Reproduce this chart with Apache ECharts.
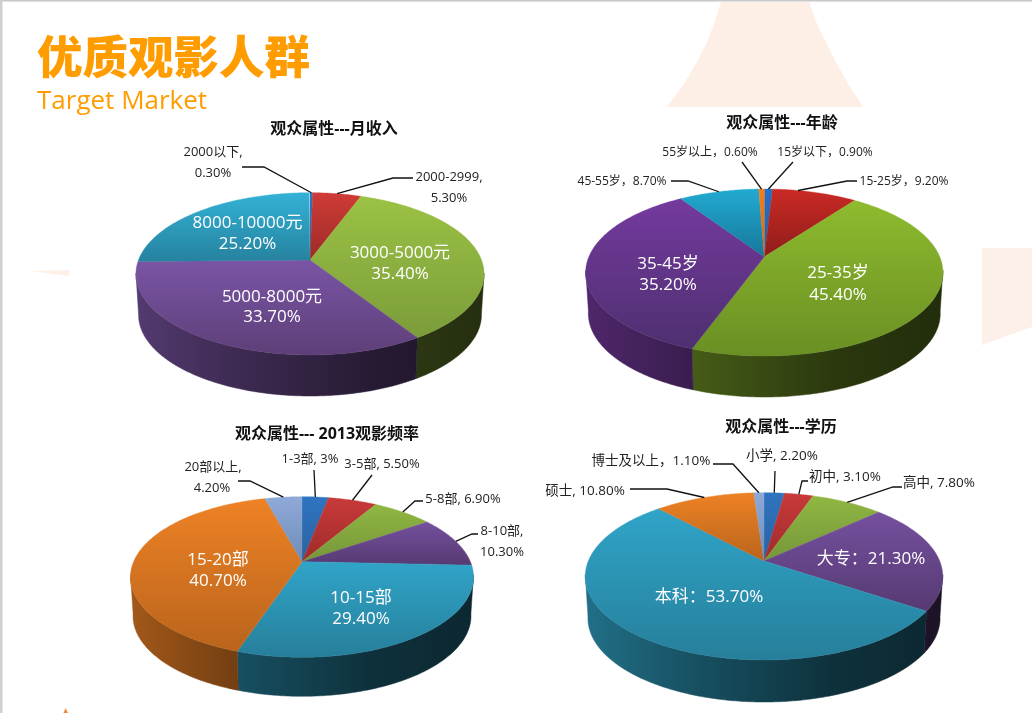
<!DOCTYPE html>
<html><head><meta charset="utf-8">
<style>html,body{margin:0;padding:0;background:#fff}#c{width:1032px;height:713px}</style>
<script src="https://cdn.jsdelivr.net/npm/echarts@6/dist/echarts.min.js"></script>
</head><body><div id="c"></div>
<script>
// ---------- data ----------
const incomeNames = ['2000以下','2000-2999','3000-5000元','5000-8000元','8000-10000元'];
const incomeValues = [0.3,5.3,35.4,33.7,25.2];
const ageNames = ['15岁以下','15-25岁','25-35岁','35-45岁','45-55岁','55岁以上'];
const ageValues = [0.9,9.2,45.4,35.2,8.7,0.6];
const freqNames = ['1-3部','3-5部','5-8部','8-10部','10-15部','15-20部','20部以上'];
const freqValues = [3,5.5,6.9,10.3,29.4,40.7,4.2];
const eduNames = ['小学','初中','高中','大专','本科','硕士','博士及以上'];
const eduValues = [2.2,3.1,7.8,21.3,53.7,10.8,1.1];

// ---------- styles ----------
const FONT = "'Open Sans','Noto Sans CJK SC',sans-serif";
const CJK = "'Noto Sans CJK SC',sans-serif";
const palSoft = {blue:['#2f74c0','#2a62a0'],red:['#c9393a','#9e2c2a'],green:['#90b742','#76963a'],purple:['#75509f','#563a72'],teal:['#30a4c8','#267f9b'],orange:['#ee8225','#b9641c'],light:['#8faad8','#6f8cb8']};
const palDeep = {blue:['#2670c8','#205ea5'],red:['#cb2a25','#8e1d1a'],green:['#8ebb2e','#6a8f23'],purple:['#743a9e','#4e2f70'],teal:['#22aad2','#17779a'],orange:['#f08020','#c96a18']};
const palIncome = {blue:['#2f74c0','#2a62a0'],red:['#d03b36','#9c2b28'],green:['#9bc244','#7b9c3a'],purple:['#7a55a5','#5e3f78'],teal:['#33b2d6','#26829f']};

// ---------- pie layouts (pixels) ----------
const pies = [
 {names:incomeNames,values:incomeValues,pal:palIncome,colors:['blue','red','green','purple','teal'],cx:310,ay:260,above:67.3,below:95,c:171.5,depth:41,outerSize:13,
  inner:[[247.5,223,'8000-10000元'],[247.5,244,'25.20%'],[400,253,'3000-5000元'],[400,274,'35.40%'],[272,297,'5000-8000元'],[272,317,'33.70%']],
  outer:[[213,152,'2000以下,'],[213,173,'0.30%'],[449,177,'2000-2999,'],[449,198,'5.30%']],
  leaders:[{i:0,pts:[[242,167],[264,167]]},{i:1,pts:[[413,178],[393,178]]}]},
 {names:ageNames,values:ageValues,pal:palDeep,colors:['blue','red','green','purple','teal','orange'],cx:764.3,ay:256.7,above:67.7,below:99.3,c:175.4,depth:41,outerSize:12,
  inner:[[668,264,'35-45岁'],[668,285,'35.20%'],[838,273,'25-35岁'],[838,295,'45.40%']],
  outer:[[710,153,'55岁以上，0.60%'],[825,153,'15岁以下，0.90%'],[622,182,'45-55岁，8.70%'],[904,182,'15-25岁，9.20%']],
  leaders:[{i:5,pts:[[742,162]]},{i:0,pts:[[793,162]]},{i:4,pts:[[671,181],[688,181]]},{i:1,at:0.3,pts:[[857,181],[847,181]]}]},
 {names:freqNames,values:freqValues,pal:palSoft,colors:['blue','red','green','purple','teal','orange','light'],cx:302,ay:561.7,above:65,below:95.6,c:168.4,depth:39,outerSize:13,
  inner:[[218,560,'15-20部'],[218,581,'40.70%'],[361,598,'10-15部'],[361,619,'29.40%']],
  outer:[[310,459,'1-3部, 3%'],[382,464,'3-5部, 5.50%'],[463,499,'5-8部, 6.90%'],[502,531,'8-10部,'],[502,552,'10.30%'],[213,467,'20部以上,'],[212,488,'4.20%']],
  leaders:[{i:0,pts:[[314,470]]},{i:1,pts:[[372,475]]},{i:2,pts:[[423,501],[415,501]]},{i:3,pts:[[478,534],[472,534]]},{i:6,pts:[[238,481],[250,481]]}]},
 {names:eduNames,values:eduValues,pal:palSoft,colors:['blue','red','green','purple','teal','orange','light'],cx:764,ay:561,above:68.3,below:99,c:175.7,depth:42,outerSize:13.5,
  inner:[[871,559,'大专：21.30%'],[709,597,'本科：53.70%']],
  outer:[[651,461,'博士及以上，1.10%'],[585,491,'硕士, 10.80%'],[782,456,'小学, 2.20%'],[845,477,'初中, 3.10%'],[939,483,'高中, 7.80%']],
  leaders:[{i:6,pts:[[713,464],[733,464]]},{i:5,pts:[[630,489],[667,489]]},{i:0,pts:[[775,471]]},{i:1,pts:[[808,481],[802,481]]},{i:2,pts:[[902,487],[893,487]]}]}
];
const pieTitles = [[334,129,'观众属性---月收入'],[782,123,'观众属性---年龄'],[327,434,'观众属性--- 2013观影频率'],[781,427,'观众属性---学历']];

// ---------- perspective ellipse ----------
function projector(p){
  const r = p.below/p.above, k = (r-1)/(r+1), b = p.above*(1+k);
  return pct => {
    const t = pct/100*2*Math.PI, u = Math.sin(t), v = -Math.cos(t), d = 1-k*v;
    return [p.cx+p.c*u/d, p.ay+b*v/d];
  };
}
function shade(hex,f){
  const n = parseInt(hex.slice(1),16);
  return 'rgb('+[(n>>16)&255,(n>>8)&255,n&255].map(x=>Math.round(x*f)).join(',')+')';
}
function starts(values){ let s=0; return values.map(v=>{const a=s; s+=v; return a;}); }

function sideSeries(p){
  const proj = projector(p), w = p.c*1.02, sh = 0.985;
  return {type:'custom',coordinateSystem:'none',silent:true,z:2,animation:false,
    data:p.values.map((v,i)=>[v,starts(p.values)[i],i]),
    renderItem(params,api){
      const v=api.value(0), s=api.value(1), idx=api.value(2);
      const a=Math.max(s,27.6), e=Math.min(s+v,72.4);
      if(e<=a) return {type:'group',children:[]};
      const top=[], bot=[];
      for(let q=a;;q+=0.2){ const m=Math.min(q,e), P=proj(m);
        top.push(P); bot.unshift([p.cx+(P[0]-p.cx)*sh,P[1]+p.depth]); if(q>=e) break; }
      const base=p.pal[p.colors[idx]][0];
      const fill={type:'linear',global:true,x:p.cx-w,y:0,x2:p.cx+w,y2:0,colorStops:[
        {offset:0,color:shade(base,0.68)},{offset:0.32,color:shade(base,0.48)},{offset:0.7,color:shade(base,0.3)},{offset:1,color:shade(base,0.24)}]};
      return {type:'polygon',shape:{points:top.concat(bot)},style:{fill,stroke:fill,lineWidth:0.5}};
    }};
}
function topSeries(p){
  const proj = projector(p);
  return {type:'custom',coordinateSystem:'none',silent:true,z:3,animation:false,
    data:p.values.map((v,i)=>[v,starts(p.values)[i],i]),
    renderItem(params,api){
      const v=api.value(0), s=api.value(1), idx=api.value(2);
      const pts=[[p.cx,p.ay]];
      for(let q=s;;q+=0.2){ const m=Math.min(q,s+v); pts.push(proj(m)); if(q>=s+v) break; }
      const c=p.pal[p.colors[idx]];
      const fill={type:'linear',x:0,y:0,x2:0,y2:1,colorStops:[{offset:0,color:c[0]},{offset:1,color:c[1]}]};
      return {type:'polygon',shape:{points:pts},style:{fill,stroke:fill,lineWidth:0.4}};
    }};
}
function annotationSeries(p){
  const proj = projector(p), st = starts(p.values);
  return {type:'custom',coordinateSystem:'none',silent:true,z:4,animation:false,data:[[0]],
    renderItem(){
      const children=[];
      p.leaders.forEach(l=>{
        const anchor=proj(st[l.i]+p.values[l.i]*(l.at===undefined?0.5:l.at));
        children.push({type:'polyline',shape:{points:l.pts.concat([anchor])},style:{fill:null,stroke:'#111',lineWidth:1.3}});
      });
      p.inner.forEach(t=>children.push({type:'text',x:t[0],y:t[1],style:{text:t[2],fill:'#fff',font:'17px '+FONT,align:'center',verticalAlign:'middle'}}));
      p.outer.forEach(t=>children.push({type:'text',x:t[0],y:t[1],style:{text:t[2],fill:'#222',font:p.outerSize+'px '+FONT,align:'center',verticalAlign:'middle'}}));
      return {type:'group',children};
    }};
}

const tint='#fdefe6';
const chart = echarts.init(document.getElementById('c'),null,{renderer:'canvas'});
chart.setOption({
  animation:false,
  backgroundColor:'#fff',
  title:[
    {text:'优质观影人群',left:37,top:24,padding:0,textStyle:{color:'#ff9c00',fontSize:45.5,fontWeight:900,fontFamily:CJK,lineHeight:66}},
    {text:'Target Market',left:37,top:86,padding:0,textStyle:{color:'#ff9c00',fontSize:26,fontWeight:'normal',fontFamily:"'Open Sans',sans-serif",lineHeight:32}}
  ].concat(pieTitles.map(t=>({text:t[2],left:t[0],top:t[1]-11,textAlign:'center',padding:0,
      textStyle:{color:'#111',fontSize:16,fontWeight:'bold',fontFamily:FONT,lineHeight:22}}))),
  graphic:[
    {type:'rect',silent:true,z:0,shape:{x:0,y:0,width:1032,height:1.5},style:{fill:'#c8c8c8'}},
    {type:'rect',silent:true,z:0,shape:{x:0,y:0,width:2.5,height:713},style:{fill:'#d0d0d0'}},
    {type:'polygon',silent:true,z:0,shape:{points:[[721,2],[714,24],[707,42],[697,62],[684,84],[667,107],[863,107],[848,84],[836,62],[826,42],[817,24],[809,2]]},style:{fill:tint}},
    {type:'polygon',silent:true,z:0,shape:{points:[[982,248],[1032,248],[1032,327],[982,345]]},style:{fill:'#fdf0e8'}},
    {type:'polygon',silent:true,z:0,shape:{points:[[29,271],[69,270],[69,276]]},style:{fill:'#fdf0e8'}},
    {type:'polygon',silent:true,z:0,shape:{points:[[65.5,708],[63.5,713],[68,713]]},style:{fill:'#f08a40'}}
  ],
  series:pies.flatMap(p=>[sideSeries(p),topSeries(p),annotationSeries(p)])
});
</script></body></html>
